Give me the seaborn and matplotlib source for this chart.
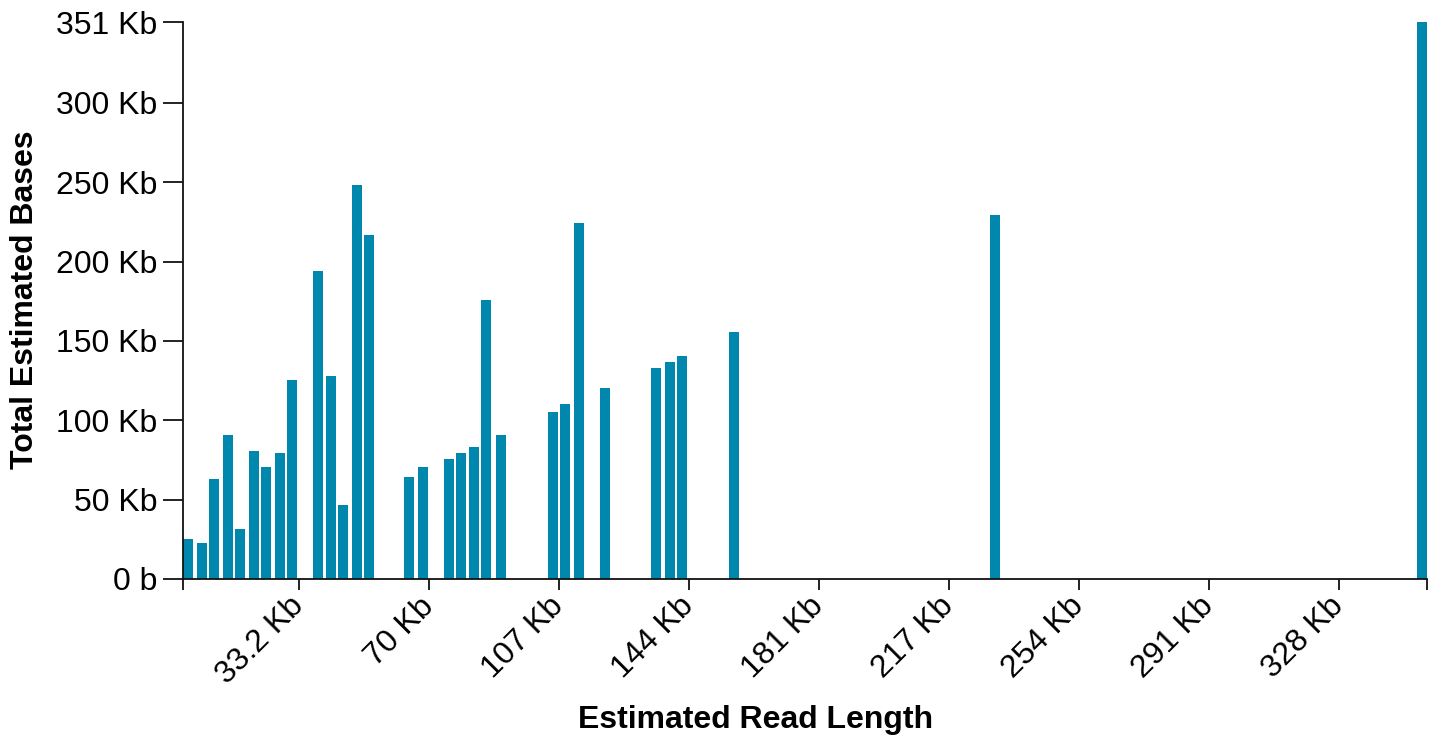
import matplotlib
matplotlib.use("Agg")
import matplotlib.pyplot as plt
import seaborn as sns
import numpy as np
import pandas as pd
from matplotlib.ticker import FuncFormatter, FixedLocator

# Read length bin start (Kb) and total estimated bases (Kb)
read_length_kb = [0.1, 4.1, 7.6, 11.5, 14.9, 18.9, 22.3, 26.3, 29.7,
                  37.1, 40.8, 44.2, 48.2, 51.6,
                  63.0, 67.0, 74.4, 77.8, 81.5, 84.9, 88.9,
                  103.7, 107.1, 111.1, 118.5,
                  133.0, 137.0, 140.4, 155.2,
                  229.2, 350.6]
total_bases_kb = [25.2, 22.7, 63.0, 90.7, 31.5, 80.7, 70.6, 79.4, 125.4,
                  194.1, 127.9, 46.6, 248.3, 216.8,
                  64.3, 70.6, 75.6, 79.4, 83.2, 175.8, 90.7,
                  105.2, 110.3, 224.3, 120.4,
                  133.0, 136.7, 140.5, 155.6,
                  229.4, 351.0]
x_tick_values = [33.2, 70.1, 107.0, 143.9, 180.8, 217.7, 254.6, 291.5, 328.4]
x_tick_labels = ["33.2 Kb", "70 Kb", "107 Kb", "144 Kb", "181 Kb",
                 "217 Kb", "254 Kb", "291 Kb", "328 Kb"]
y_tick_values = [0, 50, 100, 150, 200, 250, 300, 351]

BAR_WIDTH_KB = 2.845
BAR_COLOR = "#0087AE"
INK = "#000000"

df = pd.DataFrame({"length": read_length_kb, "bases": total_bases_kb})
edges = []
for x in read_length_kb:
    edges += [x, x + BAR_WIDTH_KB]

sns.set_theme(style="white")
plt.rcParams["font.family"] = ["Liberation Sans", "DejaVu Sans"]
plt.rcParams["text.color"] = INK
plt.rcParams["xtick.color"] = INK
plt.rcParams["ytick.color"] = INK

fig = plt.figure(figsize=(14.37, 7.38), dpi=100)
ax = fig.add_axes([182.5 / 1437, (738 - 579) / 738,
                   (1427 - 182.5) / 1437, (579 - 22) / 738])

sns.histplot(data=df, x="length", weights="bases", bins=edges,
             color=BAR_COLOR, alpha=1, linewidth=0, ax=ax)

x_max = max(read_length_kb) + BAR_WIDTH_KB
ax.set_xlim(0, x_max)
ax.set_ylim(0, max(total_bases_kb))

for s in ["top", "right"]:
    ax.spines[s].set_visible(False)
for s in ["left", "bottom"]:
    ax.spines[s].set_color("#111111")
    ax.spines[s].set_linewidth(1.3)

FS = 23
ax.yaxis.set_major_locator(FixedLocator(y_tick_values))
ax.yaxis.set_major_formatter(FuncFormatter(lambda v, p: "0 b" if v == 0 else f"{v:g} Kb"))
ax.tick_params(axis="y", which="major", length=14.4, width=1.3, color="#111111",
               labelsize=FS, pad=3.6, left=True, labelcolor=INK)

ax.set_xticks(x_tick_values)
ax.set_xticklabels(x_tick_labels, rotation=45, ha="right", va="center",
                   rotation_mode="anchor", fontsize=FS, color=INK)
ax.xaxis.set_minor_locator(FixedLocator([0, x_max]))
ax.tick_params(axis="x", which="both", length=8, width=1.3, color="#111111",
               bottom=True, pad=8.5)
ax.tick_params(axis="x", which="major", labelsize=FS)

ax.set_xlabel("")
ax.set_ylabel("")
fig.text(756 / 1437, 1 - 720 / 738, "Estimated Read Length", ha="center", va="center",
         fontsize=FS, fontweight="bold", color=INK)
fig.text(25 / 1437, 1 - 300 / 738, "Total Estimated Bases", ha="center", va="center",
         rotation=90, fontsize=FS, fontweight="bold", color=INK)

fig.savefig("out.png", dpi=100, facecolor="white")
